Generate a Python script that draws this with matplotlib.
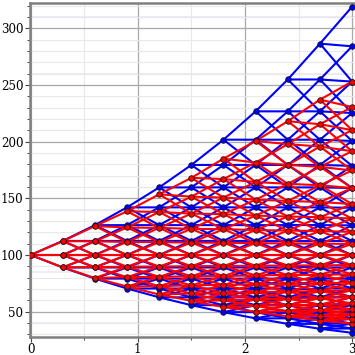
import numpy as np
import matplotlib
matplotlib.use("Agg")
import matplotlib.pyplot as plt
from matplotlib.collections import LineCollection
from matplotlib.ticker import MultipleLocator

# time grid (10 steps of 0.3)
times = [0.0, 0.3, 0.6, 0.9, 1.2, 1.5, 1.8, 2.1, 2.4, 2.7, 3.0]
# top node value of each tree at every step
blue_top = [100, 112.4, 126.3, 142.0, 159.6, 179.4, 201.7, 226.7, 254.8, 286.4, 319.0]
red_top = [100, 112.2, 125.5, 138.5, 153.5, 168.0, 185.0, 200.5, 218.0, 237.0, 253.0]
s0 = 100.0

xticks = [0, 1, 2, 3]
yticks = [50, 100, 150, 200, 250, 300]
lavender_y = [310, 260, 140, 85, 40]


def tree_nodes(tops):
    nodes = []
    for n, top in enumerate(tops):
        if n == 0:
            nodes.append(np.array([s0]))
        else:
            j = np.arange(-n, n + 1)
            nodes.append(s0 * (top / s0) ** (j / n))
    return nodes


def tree_segments(nodes):
    segs = []
    for n in range(len(nodes) - 1):
        for k, v in enumerate(nodes[n]):
            for dk in (0, 1, 2):
                segs.append([(times[n], v), (times[n + 1], nodes[n + 1][k + dk])])
    return segs


W = H = 355
fig = plt.figure(figsize=(W / 100, H / 100), dpi=100)
ax = fig.add_axes([29.5 / W, 18.5 / H, 1 - 29.5 / W, (336.5 - 2.5) / H])
ax.set_xlim(-0.01, 3.027)
ax.set_ylim(28.1, 322.7)

# grid
ax.xaxis.set_major_locator(MultipleLocator(1))
ax.xaxis.set_minor_locator(MultipleLocator(0.5))
ax.yaxis.set_major_locator(MultipleLocator(50))
ax.yaxis.set_minor_locator(MultipleLocator(10))
ax.grid(which="minor", color="#e8e8e8", lw=0.8, zorder=0)
ax.grid(which="major", color="#a8a8a8", lw=0.9, zorder=0)
for yv in lavender_y:
    ax.axhline(yv, color="#ece8f8", lw=1.2, zorder=0.5)
ax.set_axisbelow(True)

blue_nodes = tree_nodes(blue_top)
red_nodes = tree_nodes(red_top)

ax.add_collection(LineCollection(tree_segments(blue_nodes), colors="#0000ff",
                                 linewidths=1.5, zorder=2))
ax.add_collection(LineCollection(tree_segments(red_nodes), colors="#ff0000",
                                 linewidths=1.5, zorder=3))

for nodes, col, z in ((blue_nodes, "#0000ff", 4), (red_nodes, "#ff0000", 5)):
    for n, vals in enumerate(nodes):
        ax.plot([times[n]] * len(vals), vals, "o", ms=4.0, mfc=col, mec="#111111",
                mew=0.55, ls="none", zorder=z, clip_on=True)

ax.set_xticks(xticks)
ax.set_yticks(yticks)
ax.set_xticklabels([str(t) for t in xticks])
ax.set_yticklabels([str(t) for t in yticks])

for side in ("left", "bottom", "top"):
    ax.spines[side].set_color("#808080")
    ax.spines[side].set_linewidth(1.8)
ax.spines["right"].set_visible(False)

ax.tick_params(which="major", direction="out", length=3.5, width=0.8, color="#444444",
               labelsize=8.6, pad=1)
ax.tick_params(which="minor", direction="out", length=2, width=0.7, color="#444444")
for lab in ax.get_xticklabels() + ax.get_yticklabels():
    lab.set_fontfamily("DejaVu Serif")

fig.savefig("out.png", dpi=100)
